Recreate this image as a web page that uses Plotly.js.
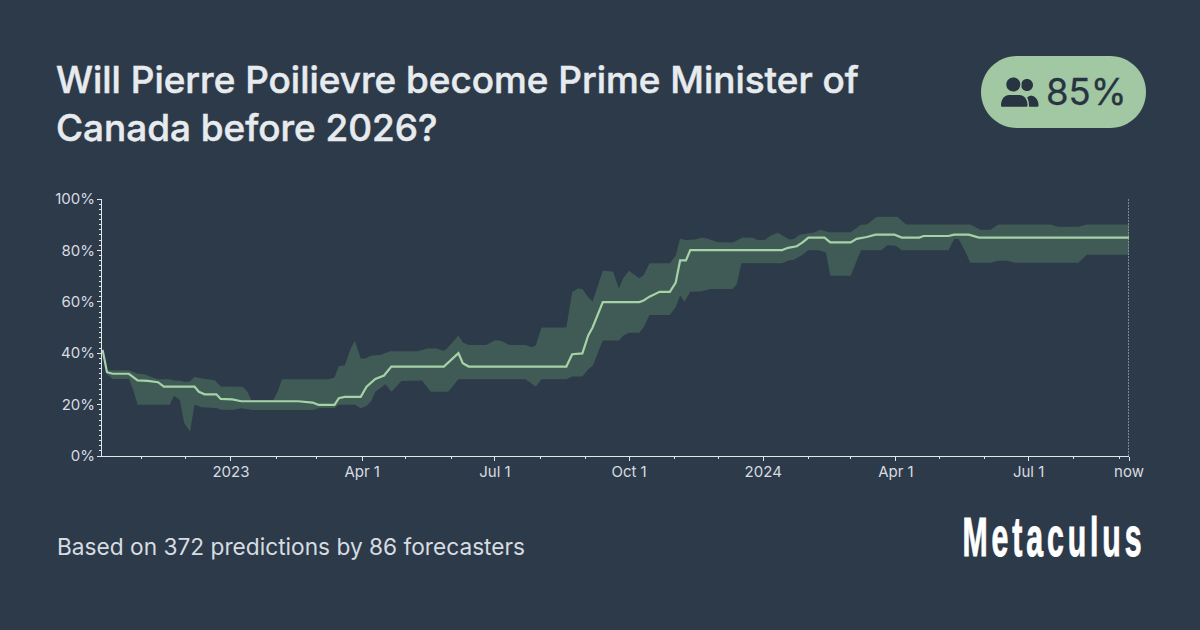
<!DOCTYPE html>
<html><head><meta charset="utf-8">
<script src="https://cdn.plot.ly/plotly-3.0.1.min.js"></script>
<style>html,body{margin:0;padding:0;background:#2d3a4a;overflow:hidden}#c{width:1200px;height:630px}</style>
</head><body><div id="c"></div>
<script>
// Days counted from 2023-01-01, and percentages
const medianDays=[-88,-85,-81,-70,-64,-57,-50,-46,-25,-22,-18,-10,-7,1,7,46,56,60,71,74,78,89,93,99,105,110,146,152,156,159,163,230,234,241,245,248,255,280,283,287,290,294,301,305,308,312,315,378,382,386,388,392,396,407,411,425,429,436,442,455,460,472,475,492,496,506,513,616];
const medianPct=[41.3,32.6,32,32,29.4,29.2,28.7,27,27,25,24,24,22.2,22,21.3,21.3,20.8,19.9,19.9,22.5,23,23,27,30,31.3,34.8,34.8,38,40,36.1,34.8,34.8,39.6,39.9,46.9,50,59.9,59.9,60.5,62,62.7,63.9,63.9,67.5,76.1,76.1,80.1,80.1,81,81.3,81.6,83.1,85,85,83.1,83.1,84.5,85.2,86.1,86.1,85,85,85.6,85.6,86.1,86.1,85,85];
const upperDays=[-88,-85,-70,-64,-59,-55,-50,-42,-40,-34,-32,-28,-25,-19,-11,-7,8,11,14,29,32,35,67,71,74,78,82,85,89,92,96,103,109,128,135,141,146,149,156,159,163,175,181,185,191,202,206,209,213,230,234,238,241,245,248,255,262,266,269,273,280,283,287,301,305,308,312,318,323,327,334,344,351,358,361,366,370,375,379,383,386,390,400,404,410,425,432,436,443,457,463,507,514,521,526,562,567,581,587,616];
const upperPct=[41.3,33.4,33.4,32,31.8,30.8,29.9,29.9,29.5,29.2,28.8,29,30.8,30.1,29.5,27,26.9,25.3,21.8,21.8,25,29.9,29.9,30.5,35,35.2,41.6,44.8,37.9,37.9,39,39.4,40.8,40.8,41.8,41.8,40.9,42.3,46.9,44.2,43.2,43.2,45,44.8,43.2,43.2,42.3,43,50,50,63.8,65.2,65,61.8,60.1,72.1,71.8,65.2,69.2,72.1,69.2,70.3,75,75,78,84.5,84,84.2,85,84.5,83.2,83.1,85,84.9,84,84,85.7,86.9,85.5,84.2,84.4,86.1,87,88,87.1,87.1,90,90.1,93.1,93.1,90.1,90.1,88,88,90.1,90.1,89.2,89.2,90.1,90.1];
const lowerDays=[-88,-85,-81,-70,-67,-64,-42,-39,-35,-32,-28,-25,-20,-10,-7,2,7,15,56,61,71,74,85,89,93,96,99,106,110,117,131,137,149,156,202,209,213,230,234,241,245,248,255,266,269,273,280,283,287,301,305,308,311,315,322,329,344,347,350,378,382,386,392,396,403,408,411,425,432,446,450,456,460,492,496,499,503,507,521,526,532,538,581,587,616];
const lowerPct=[41.3,31.8,30,30,25.7,19.9,19.9,23.4,21.8,12.7,9.5,19.9,19,18.7,18,18,18.6,17.9,17.9,18.7,18.7,19.9,19.9,18.6,19.5,21.2,25,27.9,25,29.2,29.4,25,25,29.9,29.9,27,29.9,29.9,30.9,30.9,33.8,35,44.9,44.9,46.8,48,48,50,54.9,54.9,57.9,62.5,60,63.9,64,65,65,66.9,75,75,76,76.4,78.3,80.1,80.1,79.2,70.1,70.1,80.1,80.1,82,81.8,80.1,80.1,84.5,84.4,80.3,75.2,75.2,76,76,75.2,75.2,78.3,78.3];
const xTickDates=['2023-01-01','2023-04-01','2023-07-01','2023-10-01','2024-01-01','2024-04-01','2024-07-01','2024-09-07 20:00'];
const xTickLabels=['2023','Apr 1','Jul 1','Oct 1','2024','Apr 1','Jul 1','now'];
const xMinorDates=['2022-11-01','2022-12-01','2023-02-01','2023-03-01','2023-05-01','2023-06-01','2023-08-01','2023-09-01','2023-11-01','2023-12-01','2024-02-01','2024-03-01','2024-05-01','2024-06-01','2024-08-01','2024-09-01'];
const yTicks=[0,20,40,60,80,100];
const yLabels=['0%','20%','40%','60%','80%','100%'];
const titleText='Will Pierre Poilievre become Prime Minister of<br>Canada before 2026?';
const footerText='Based on 372 predictions by 86 forecasters';
const badgeText='85%';
const brandText='Metaculus';

const BG='#2d3a4a',PILL='#a1c8a2',DARK='#283441',LIGHT='#e7ebee',TICK='#d7dce1',LINE='#a5d2a6';
const toDate=d=>new Date(Date.UTC(2023,0,1+d)).toISOString().slice(0,10);
const L=102,R=71,T=199,B=174,W=1200-L-R,H=630-T-B;
const xp=p=>(p-L)/W, yp=p=>(630-B-p)/H;
function rr(x0,y0,x1,y1,r){const k=r*0.5523;const P=(x,y)=>xp(x)+','+yp(y);
 return 'M'+P(x0+r,y0)+' L'+P(x1-r,y0)+' C'+P(x1-r+k,y0)+' '+P(x1,y0+r-k)+' '+P(x1,y0+r)+' L'+P(x1,y1-r)+' C'+P(x1,y1-r+k)+' '+P(x1-r+k,y1)+' '+P(x1-r,y1)+' L'+P(x0+r,y1)+' C'+P(x0+r-k,y1)+' '+P(x0,y1-r+k)+' '+P(x0,y1-r)+' L'+P(x0,y0+r)+' C'+P(x0,y0+r-k)+' '+P(x0+r-k,y0)+' '+P(x0+r,y0)+' Z';}
function circ(cx,cy,r,fill){return {type:'path',xref:'paper',yref:'paper',path:rr(cx-r,cy-r,cx+r,cy+r,r),fillcolor:fill,line:{width:0},layer:'above'};}
function body(x0,x1,y0,y1,fill){const P=(x,y)=>xp(x)+','+yp(y);
 return {type:'path',xref:'paper',yref:'paper',fillcolor:fill,line:{width:0},layer:'above',
 path:'M'+P(x0+1,y1)+' L'+P(x1-1,y1)+' C'+P(x1,y1)+' '+P(x1,y1-1)+' '+P(x1,y1-2)+' C'+P(x1,y0+3)+' '+P(x1-5,y0)+' '+P(x1-8,y0)+' L'+P(x0+8,y0)+' C'+P(x0+5,y0)+' '+P(x0,y0+3)+' '+P(x0,y1-2)+' C'+P(x0,y1-1)+' '+P(x0,y1)+' '+P(x0+1,y1)+' Z'};}
const shapes=[
 {type:'path',xref:'paper',yref:'paper',path:rr(981,56,1146,128,36),fillcolor:PILL,line:{width:0},layer:'above'},
 circ(1027,85,6,DARK),
 body(1024,1038.5,95.5,106.8,DARK),
 circ(1013.3,84.5,8.3,PILL),
 circ(1013.3,84.5,7,DARK),
 body(999.5,1029,93.5,108,PILL),
 body(1001,1027.5,95,106.8,DARK),
 {type:'line',xref:'x',yref:'paper',x0:xTickDates[7],x1:xTickDates[7],y0:0,y1:1,line:{color:'#a8b0b8',width:1.3,dash:'2px,1px'},layer:'above'}
];
const data=[
 {type:'scatter',mode:'lines',x:upperDays.map(toDate).concat(lowerDays.map(toDate).reverse()),y:upperPct.concat(lowerPct.slice().reverse()),fill:'toself',fillcolor:'rgba(125,186,118,0.25)',line:{width:0},hoverinfo:'skip',showlegend:false},
 {type:'scatter',mode:'lines',x:medianDays.map(toDate),y:medianPct,line:{color:LINE,width:2.2},showlegend:false}
];
const axisBase={showgrid:false,zeroline:false,showline:true,linecolor:'#e3e7ea',linewidth:1,ticks:'outside',ticklen:4,tickwidth:1,tickcolor:'#e3e7ea',tickfont:{size:15,color:TICK,family:'Inter, sans-serif'}};
const layout={width:1200,height:630,paper_bgcolor:BG,plot_bgcolor:BG,showlegend:false,
 margin:{l:L,r:R,t:T,b:B,pad:0},
 font:{family:'Inter, sans-serif',color:TICK,size:14},
 xaxis:Object.assign({type:'date',range:['2022-10-04 14:00',xTickDates[7]],tickmode:'array',tickvals:xTickDates,ticktext:xTickLabels,ticklabelstandoff:-2,
  minor:{tickmode:'array',tickvals:xMinorDates,ticks:'outside',ticklen:2,tickwidth:1,tickcolor:'#e3e7ea',showgrid:false}},axisBase),
 yaxis:Object.assign({range:[0,100],tickmode:'array',tickvals:yTicks,ticktext:yLabels,ticklabelstandoff:-1,
  minor:{dtick:2,ticks:'outside',ticklen:2,tickwidth:1,tickcolor:'#e3e7ea',showgrid:false}},axisBase),
 shapes:shapes,
 annotations:[
  {text:titleText,xref:'paper',yref:'paper',x:xp(54),y:yp(103),xanchor:'left',yanchor:'middle',align:'left',showarrow:false,font:{family:'Inter, sans-serif',size:36.9,weight:500,color:LIGHT}},
  {text:footerText,xref:'paper',yref:'paper',x:xp(55),y:yp(546),xanchor:'left',yanchor:'middle',showarrow:false,font:{family:'Inter, sans-serif',size:22.7,color:TICK}},
  {text:badgeText,xref:'paper',yref:'paper',x:xp(1086.5),y:yp(92),xanchor:'center',yanchor:'middle',showarrow:false,font:{family:'Inter, sans-serif',size:36.5,color:DARK}},
  {text:brandText,xref:'paper',yref:'paper',x:xp(1053.5),y:yp(536),xanchor:'center',yanchor:'middle',showarrow:false,font:{family:'"Liberation Sans", sans-serif',size:56,weight:700,color:'#ffffff'}}
 ]};
Plotly.newPlot('c',data,layout,{displayModeBar:false,staticPlot:true}).then(()=>{
 document.querySelectorAll('.annotation-text').forEach(t=>{
  if(t.textContent===brandText){t.style.letterSpacing='7.2px';t.style.transformBox='fill-box';t.style.transformOrigin='center';t.style.transform='scaleX(0.54)';t.style.stroke='#ffffff';t.style.strokeWidth='1px';}
  if(t.textContent.indexOf('Pierre')>=0){t.style.stroke=LIGHT;t.style.strokeWidth='0.5px';}
  if(t.textContent===badgeText){t.style.stroke=DARK;t.style.strokeWidth='0.3px';}
 });
});
</script></body></html>
